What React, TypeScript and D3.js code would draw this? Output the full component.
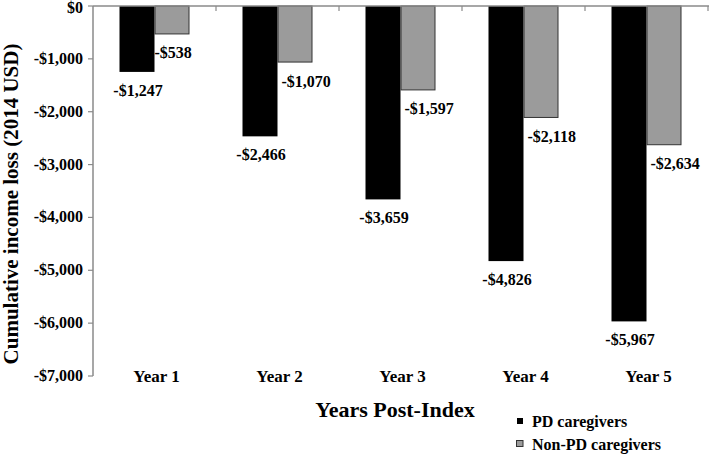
import React from "react";
import * as d3 from "d3";

const categories = ["Year 1", "Year 2", "Year 3", "Year 4", "Year 5"];
const pdValues = [-1247, -2466, -3659, -4826, -5967];
const nonPdValues = [-538, -1070, -1597, -2118, -2634];
const yTicks = [0, -1000, -2000, -3000, -4000, -5000, -6000, -7000];
const seriesNames = ["PD caregivers", "Non-PD caregivers"];

const W = 709;
const H = 454;
const FONT = '"Liberation Serif", "Times New Roman", Times, "DejaVu Serif", serif';

const fmt = (v: number) => (v < 0 ? "-$" : "$") + d3.format(",")(Math.abs(v));

export default function App() {
  const x = d3.scaleBand<string>().domain(categories).range([93, 708]).padding(0);
  const y = d3.scaleLinear().domain([-7000, 0]).range([376, 6]);
  const barW = 35;
  const axisColor = "#8a8a8a";

  return (
    <svg
      width={W}
      height={H}
      style={{ position: "absolute", left: 0, top: 0, background: "#fff", fontFamily: FONT, fontWeight: 700 }}
    >
      {/* bars */}
      {categories.map((c, i) => {
        const cx = (x(c) as number) + x.bandwidth() / 2;
        const y0 = y(0);
        const yPd = y(pdValues[i]);
        const yNp = y(nonPdValues[i]);
        return (
          <g key={c}>
            <rect x={cx - barW} y={y0} width={barW} height={yPd - y0} fill="#000" />
            <rect
              x={cx + 0.5}
              y={y0}
              width={barW - 1}
              height={yNp - y0 - 0.5}
              fill="#9b9b9b"
              stroke="#333"
              strokeWidth={1}
            />
            <text x={cx - barW / 2 + 1} y={yPd + 24} textAnchor="middle" fontSize={16}>
              {fmt(pdValues[i])}
            </text>
            <text x={cx + (i === 0 ? 0 : 4)} y={yNp + 24} textAnchor="start" fontSize={16}>
              {fmt(nonPdValues[i])}
            </text>
            <text x={cx + 2} y={382} textAnchor="middle" fontSize={17}>
              {c}
            </text>
          </g>
        );
      })}

      {/* top axis line (zero) with category ticks */}
      <line x1={93} x2={709} y1={y(0)} y2={y(0)} stroke={axisColor} strokeWidth={1.5} />
      {categories.map((c, i) =>
        i === 0 ? null : (
          <line
            key={"ct" + c}
            x1={x(c) as number}
            x2={x(c) as number}
            y1={y(0)}
            y2={y(0) + 5}
            stroke={axisColor}
            strokeWidth={1.2}
          />
        )
      )}
      <line x1={708} x2={708} y1={y(0)} y2={y(0) + 5} stroke={axisColor} strokeWidth={1.2} />

      {/* y axis */}
      <line x1={93} x2={93} y1={y(0)} y2={y(-7000)} stroke={axisColor} strokeWidth={1.5} />
      {yTicks.map((t) => (
        <g key={t}>
          <line x1={88} x2={93} y1={y(t)} y2={y(t)} stroke={axisColor} strokeWidth={1.2} />
          <text x={83} y={Math.max(y(t) + 5, 13)} textAnchor="end" fontSize={16}>
            {fmt(t)}
          </text>
        </g>
      ))}

      {/* axis titles */}
      <text
        transform={`translate(18, 204) rotate(-90)`}
        textAnchor="middle"
        fontSize={21}
      >
        Cumulative income loss (2014 USD)
      </text>
      <text x={395} y={417} textAnchor="middle" fontSize={22}>
        Years Post-Index
      </text>

      {/* legend */}
      <rect x={517} y={418} width={6} height={6} fill="#000" />
      <text x={532} y={427} fontSize={16}>
        {seriesNames[0]}
      </text>
      <rect x={516.5} y={440.5} width={6.5} height={6} fill="#9b9b9b" stroke="#333" strokeWidth={1} />
      <text x={532} y={450} fontSize={16}>
        {seriesNames[1]}
      </text>
    </svg>
  );
}
